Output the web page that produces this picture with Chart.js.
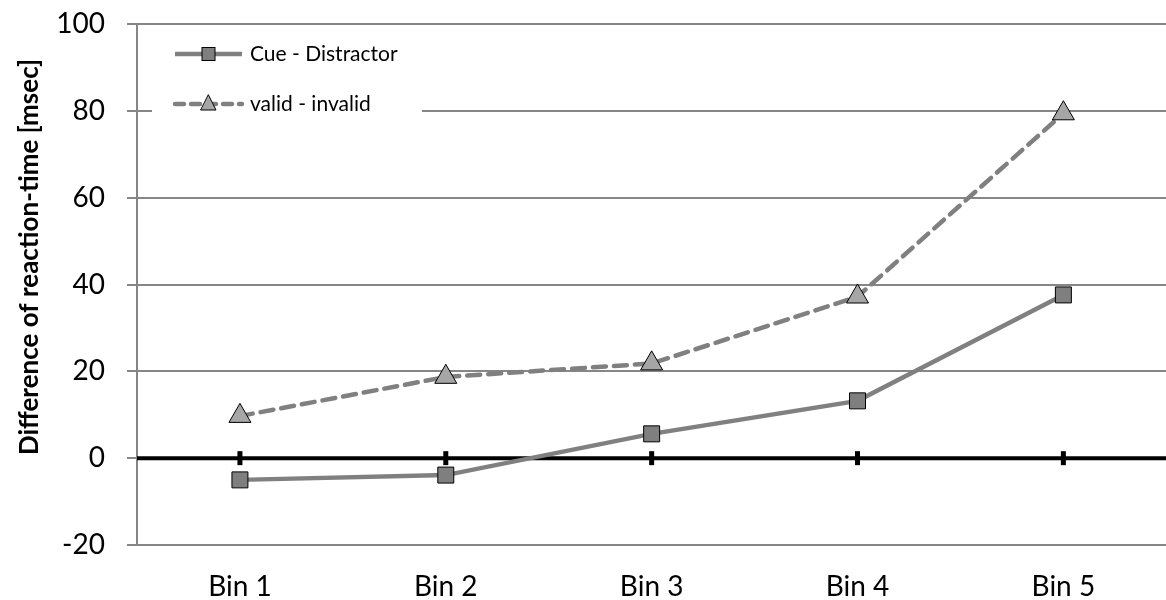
<!DOCTYPE html>
<html>
<head>
<meta charset="utf-8">
<script src="https://cdn.jsdelivr.net/npm/chart.js@4.4.1/dist/chart.umd.min.js"></script>
<style>
    html, body { margin: 0; padding: 0; background: #fff; overflow: hidden; }
    #wrap { width: 1180px; height: 600px; }
</style>
</head>
<body>
<div id="wrap"><canvas id="rtChart"></canvas></div>
<script>
// Data
const bins = ['Bin 1', 'Bin 2', 'Bin 3', 'Bin 4', 'Bin 5'];
const cueDistractor = [-5.0, -3.9, 5.6, 13.2, 37.6];
const validInvalid = [9.7, 18.7, 21.8, 37.2, 79.4];
const yTicks = [-20, 0, 20, 40, 60, 80, 100];
const yTitle = 'Difference of reaction-time [msec]';

const FONT = 'Lato, "Open Sans", sans-serif';
const GRID = '#868686';
const LINE = '#808080';

// Thick zero line with small marks at each category
const zeroLine = {
    id: 'zeroLine',
    beforeDatasetsDraw(chart) {
        const { ctx, chartArea, scales } = chart;
        const y0 = scales.y.getPixelForValue(0);
        ctx.save();
        ctx.strokeStyle = '#000';
        ctx.lineWidth = 4;
        ctx.beginPath();
        ctx.moveTo(chartArea.left, y0);
        ctx.lineTo(chartArea.right, y0);
        ctx.stroke();
        ctx.lineWidth = 5;
        bins.forEach((b, i) => {
            const x = scales.x.getPixelForValue(i);
            ctx.beginPath();
            ctx.moveTo(x, y0 - 7);
            ctx.lineTo(x, y0 + 7);
            ctx.stroke();
        });
        ctx.restore();
    }
};

// Rotated y axis title, placed a bit above the plot centre like the original
const axisTitle = {
    id: 'axisTitle',
    afterDraw(chart) {
        const { ctx } = chart;
        ctx.save();
        ctx.translate(30, 257);
        ctx.rotate(-Math.PI / 2);
        ctx.fillStyle = '#000';
        ctx.font = 'bold 26px ' + FONT;
        ctx.textAlign = 'center';
        ctx.textBaseline = 'middle';
        ctx.fillText(yTitle, 0, 0);
        ctx.restore();
    }
};

// Excel style legend inside the plot, top-left
const boxLegend = {
    id: 'boxLegend',
    afterDatasetsDraw(chart) {
        const { ctx } = chart;
        ctx.save();
        ctx.fillStyle = '#fff';
        ctx.fillRect(152, 30, 270, 100);
        const rows = [
            { label: 'Cue - Distractor', y: 54, dash: [], fill: '#7f7f7f', style: 'rect' },
            { label: 'valid - invalid', y: 104, dash: [9, 7], fill: '#a6a6a6', style: 'triangle' }
        ];
        rows.forEach(r => {
            ctx.strokeStyle = LINE;
            ctx.lineWidth = 4.5;
            ctx.lineCap = r.dash.length ? 'round' : 'butt';
            ctx.setLineDash(r.dash);
            ctx.beginPath();
            ctx.moveTo(175, r.y);
            ctx.lineTo(242, r.y);
            ctx.stroke();
            ctx.setLineDash([]);
            ctx.fillStyle = r.fill;
            ctx.strokeStyle = '#000';
            ctx.lineWidth = 1;
            if (r.style === 'rect') {
                ctx.fillRect(202, r.y - 6.5, 13, 13);
                ctx.strokeRect(202, r.y - 6.5, 13, 13);
            } else {
                ctx.beginPath();
                ctx.moveTo(208.5, r.y - 9);
                ctx.lineTo(216, r.y + 6);
                ctx.lineTo(201, r.y + 6);
                ctx.closePath();
                ctx.fill();
                ctx.stroke();
            }
            ctx.fillStyle = '#000';
            ctx.font = '21px ' + FONT;
            ctx.textBaseline = 'middle';
            ctx.fillText(r.label, 250, r.y);
        });
        ctx.restore();
    }
};

const ctx = document.getElementById('rtChart').getContext('2d');
const chart = new Chart(ctx, {
    type: 'line',
    data: {
        labels: bins,
        datasets: [
            {
                label: 'Cue - Distractor',
                data: cueDistractor,
                borderColor: LINE,
                borderWidth: 4.5,
                pointStyle: 'rect',
                pointRadius: 11.3,
                pointBackgroundColor: '#7f7f7f',
                pointBorderColor: '#000',
                pointBorderWidth: 1,
                tension: 0
            },
            {
                label: 'valid - invalid',
                data: validInvalid,
                borderColor: LINE,
                borderWidth: 4.5,
                borderDash: [13, 8],
                borderCapStyle: 'round',
                pointStyle: 'triangle',
                pointRadius: 12.7,
                pointBackgroundColor: '#a6a6a6',
                pointBorderColor: '#000',
                pointBorderWidth: 1,
                tension: 0
            }
        ]
    },
    options: {
        responsive: true,
        maintainAspectRatio: false,
        animation: false,
        layout: { padding: { top: 24, right: 7, left: 0, bottom: 0 } },
        plugins: {
            legend: { display: false },
            tooltip: { enabled: false }
        },
        scales: {
            x: {
                offset: true,
                grid: { display: false },
                border: { display: true, color: GRID, width: 2 },
                ticks: { color: '#000', font: { family: FONT, size: 28 }, padding: 17 },
                afterFit(scale) { scale.height = 55; }
            },
            y: {
                min: -20,
                max: 100,
                afterBuildTicks(scale) { scale.ticks = yTicks.map(v => ({ value: v })); },
                grid: { color: GRID, lineWidth: 2, tickLength: 10 },
                border: { display: true, color: GRID, width: 2 },
                ticks: { color: '#000', font: { family: FONT, size: 28 }, padding: 22 },
                afterFit(scale) {
                    scale.width = 137;
                    scale.paddingTop = 0;
                    scale.paddingBottom = 0;
                }
            }
        }
    },
    plugins: [zeroLine, boxLegend, axisTitle]
});
</script>
</body>
</html>
